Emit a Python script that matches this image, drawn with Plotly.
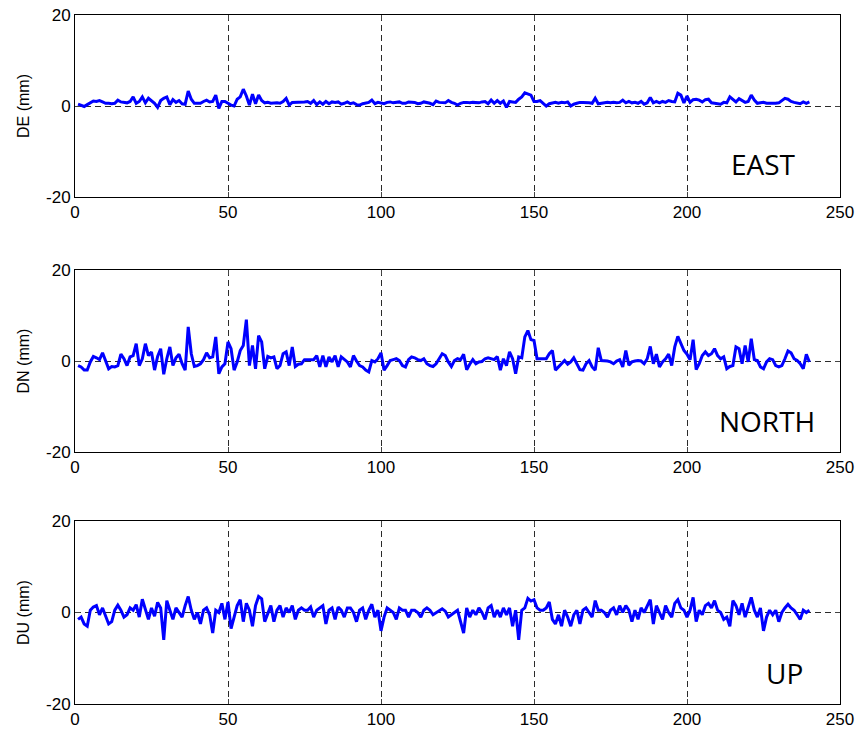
import plotly.graph_objects as go
from plotly.subplots import make_subplots

epochs = list(range(1, 241))

east = [
    0.4, 0.2, -0.1, 0.3, 0.8, 1.1, 1.0, 1.2, 0.9, 0.6,
    0.6, 0.5, 0.6, 1.3, 0.9, 0.8, 0.7, 1.0, 2.0, 0.6,
    1.0, 2.0, 0.7, 1.7, 1.2, 0.6, -0.3, 1.2, 1.7, 2.0,
    0.3, 1.4, 0.8, 1.2, 0.5, 0.4, 3.3, 1.5, 0.6, 0.6,
    0.6, 1.0, 1.3, 0.9, 1.0, 2.4, -0.5, 1.0, 1.0, 0.6,
    0.2, 0.0, 1.5, 2.0, 3.7, 2.2, 0.2, 2.6, 0.5, 2.4,
    1.2, 0.7, 0.8, 0.6, 0.7, 0.7, 0.6, 1.0, 1.7, 0.2,
    0.8, 0.8, 0.8, 0.8, 0.9, 1.0, 0.6, 1.2, 0.3, 0.9,
    0.4, 1.0, 0.5, 0.9, 0.8, 0.9, 0.4, 0.6, 0.9, 0.5,
    0.7, 0.3, 0.2, 0.5, 0.7, 0.8, 1.3, 0.5, 0.8, 0.6,
    0.5, 0.8, 0.9, 0.7, 0.8, 0.9, 0.6, 0.6, 0.9, 0.9,
    0.8, 0.5, 0.6, 0.9, 0.8, 0.6, 0.3, 1.1, 0.8, 0.7,
    0.7, 1.2, 0.8, 0.6, 0.2, 0.6, 0.8, 0.8, 0.7, 0.8,
    0.8, 0.7, 0.9, 1.0, 0.5, 1.3, 0.6, 1.2, 0.6, 1.1,
    -0.3, 1.0, 0.9, 0.8, 1.5, 2.0, 2.9, 2.6, 2.4, 1.0,
    1.0, 1.2, 0.6, 0.0, 0.5, 0.6, 0.8, 0.6, 0.8, 0.7,
    0.9, 0.0, 0.4, 0.6, 0.8, 0.8, 0.8, 0.7, 0.6, 1.7,
    0.5, 0.6, 0.7, 0.8, 0.7, 0.8, 0.7, 0.8, 1.3, 0.7,
    1.0, 0.7, 0.8, 0.6, 1.0, 0.4, 0.7, 1.9, 0.7, 1.0,
    0.7, 1.0, 0.8, 1.2, 1.0, 0.9, 2.8, 2.4, 0.7, 2.2,
    0.8, 1.4, 1.5, 1.3, 0.9, 1.4, 1.5, 0.7, 0.6, 0.5,
    0.4, 0.8, 0.7, 2.0, 1.5, 0.9, 1.6, 1.2, 0.8, 1.0,
    2.4, 1.3, 0.6, 0.7, 0.8, 0.6, 0.6, 0.5, 0.6, 0.7,
    1.2, 1.7, 1.5, 1.0, 0.8, 0.7, 0.5, 0.9, 0.6, 0.9,
]

north = [
    -1.0, -1.3, -2.0, -2.0, -0.2, 1.0, 0.7, 0.3, 1.8, -0.2,
    -1.7, -1.2, -1.3, -1.0, 1.5, 0.5, -1.0, 0.9, 1.2, 3.8,
    -1.0, 0.5, 3.8, 1.2, 2.0, -2.0, 1.0, 2.7, -2.9, 0.5,
    3.1, -1.0, 0.7, 1.5, -0.6, -2.0, 7.5, 1.6, -1.2, -1.0,
    -0.6, 0.3, 1.8, 0.7, 0.9, 5.3, -2.8, -1.3, -0.6, 4.2,
    2.7, -2.0, -0.2, 2.3, 3.4, 9.1, -1.0, 3.4, -1.7, 5.6,
    4.2, -1.7, 1.0, 0.7, 0.9, -1.7, -1.0, 1.6, 2.0, -1.0,
    3.1, -1.2, -0.7, -0.6, 0.3, 0.3, 0.3, 0.3, 1.2, -1.3,
    1.2, -1.3, 0.9, -0.2, 1.2, -1.3, 0.9, 0.3, -0.2, -1.3,
    1.2, 0.0, -1.0, -1.3, -2.0, -2.4, 0.1, -0.2, 0.5, 1.8,
    -2.0, -1.0, 0.1, 0.3, 0.5, 0.1, -1.0, -1.3, 0.3, 0.9,
    0.7, 0.3, 0.1, 0.5, -0.6, -1.0, -1.2, -0.6, 0.5, 1.6,
    1.2, -0.2, -1.2, 0.1, 0.5, 0.3, 1.5, -1.9, -0.7, 0.3,
    -0.6, -0.2, -0.1, 0.5, 0.7, 0.5, 0.3, 1.0, -2.0, 0.5,
    -1.0, 2.0, 0.5, -2.8, 0.9, 0.7, 5.3, 6.7, 4.7, 4.5,
    0.5, 0.5, 0.5, 0.5, 1.6, 2.3, -2.0, -1.3, -0.8, 0.1,
    -0.7, -0.2, 0.7, -0.6, -1.9, -2.0, -0.6, 0.1, -1.3, -2.0,
    2.9, 0.1, 0.1, 0.0, -0.2, -0.6, 0.0, 0.3, -1.3, 2.3,
    -0.9, -0.2, 0.0, 0.1, 0.0, -0.6, 0.5, 3.2, -0.6, 1.5,
    -1.3, -0.2, 0.5, 1.5, -1.0, 3.1, 5.4, 3.8, 2.3, 1.5,
    0.3, 4.7, -1.9, -0.6, 1.2, 2.0, 1.2, 1.6, 2.7, 1.2,
    0.5, 0.9, -1.7, -1.2, -1.0, 3.1, 2.7, -0.6, 3.4, -0.2,
    4.9, 0.3, 0.1, -1.3, -1.7, -0.2, 0.5, 0.3, -1.0, -1.3,
    -1.0, 0.5, 2.2, 1.8, 0.5, 0.1, -0.6, -1.7, 1.5, -0.2,
]

up = [
    -1.5, -1.0, -2.5, -3.0, 0.5, 1.2, 1.5, -0.5, 1.0, -1.0,
    -2.5, -2.0, 0.5, 1.6, 0.5, -1.0, -0.5, 1.0, 0.5, 1.7,
    -1.0, 2.9, 0.8, -1.5, 1.0, -0.8, 2.2, 1.0, -6.0, 2.6,
    0.5, -1.5, 1.0, 0.0, -1.0, 1.5, 3.5, 0.5, -1.5, 0.0,
    -2.5, 0.5, 1.0, -0.5, -4.5, 0.5, 0.0, 2.0, -1.5, 2.3,
    -3.5, -1.0, 1.5, 2.8, -2.0, 2.0, 0.5, -3.0, 1.5, 3.5,
    3.0, -2.0, 0.0, 1.5, -2.0, 0.5, 1.5, -1.0, 1.0, 0.0,
    1.5, -1.5, 0.5, 1.0, 0.5, 0.5, 1.2, -1.0, 0.5, 1.0,
    1.5, -2.5, 0.5, 1.0, -1.5, 1.2, 0.5, -1.0, 1.0, 1.0,
    0.0, -2.0, 0.5, 1.0, -1.5, 0.5, 1.8, -1.0, 0.5, -4.0,
    -1.0, 1.0, 0.5, 0.0, -1.5, 1.0, 0.5, 0.5, -1.0, 0.5,
    0.5, 0.0, -1.0, 0.5, 1.0, 0.5, -0.5, 0.0, 0.5, 0.8,
    0.3, -1.0, -0.5, 0.0, 0.5, -2.0, -4.5, 1.0, -1.0, 0.5,
    -0.5, 1.0, 0.0, -1.5, 1.0, 1.5, -1.0, 0.5, -1.0, 1.0,
    -0.5, 1.0, -3.0, 0.5, -6.0, 0.5, 1.0, 3.1, 2.5, 2.8,
    1.0, 0.5, 0.5, 1.0, 2.3, -1.5, -2.5, -0.5, -3.0, 0.5,
    -1.0, -3.0, -0.5, 0.5, -2.5, 0.5, 1.0, 0.0, -1.0, 2.6,
    0.5, 0.5, 0.0, -1.0, 0.5, 1.0, -0.5, 1.5, 0.0, 1.5,
    0.5, -2.0, 0.5, -1.5, 1.0, 0.0, 1.5, 2.8, -2.5, 1.5,
    0.0, -1.5, 1.5, 0.0, -1.0, 2.0, 2.8, 1.0, 0.5, -1.0,
    0.5, 3.3, -2.0, 0.5, -0.5, 1.5, 2.0, 1.0, 2.6, 0.5,
    0.0, -1.5, -1.0, -3.0, 2.6, 1.5, -0.5, 2.0, -1.0, 1.0,
    3.3, 0.5, -1.0, 1.0, -4.0, -1.0, 0.5, -0.5, 0.5, -2.0,
    0.0, 1.0, 1.8, 1.0, 0.5, -0.5, -1.5, 0.5, 0.0, 0.5,
]

series = [east, north, up]
ylabels = ["DE (mm)", "DN (mm)", "DU (mm)"]
panel_names = ["EAST", "NORTH", "UP"]
name_x = [225, 226, 232]
name_y = [-12.8, -13.2, -13.2]
x_ticks = [0, 50, 100, 150, 200, 250]
x_ticktext = ["0", "50", "100", "150", "200", "250"]
y_ticks = [-20, 0, 20]
y_ticktext = ["-20", "0", "20"]

domains = [[0.7358, 1.0], [0.3657, 0.6299], [0.0, 0.2656]]

fig = make_subplots(rows=3, cols=1)

for i, vals in enumerate(series):
    fig.add_trace(
        go.Scatter(x=epochs, y=vals, mode="lines",
                   line=dict(color="#0000FF", width=3), showlegend=False),
        row=i + 1, col=1,
    )

tick_font = dict(family="Liberation Sans, Arial, sans-serif", size=17, color="black")
for i in range(3):
    xa = "xaxis" if i == 0 else f"xaxis{i+1}"
    ya = "yaxis" if i == 0 else f"yaxis{i+1}"
    fig.layout[xa].update(
        range=[0, 250], tickvals=x_ticks, ticktext=x_ticktext, ticks="inside", ticklen=5,
        showline=True, linecolor="black", linewidth=1, mirror="allticks",
        showgrid=True, gridcolor="#2a2a2a", gridwidth=1, griddash="6px,4px",
        zeroline=False, tickfont=tick_font, domain=[0, 1], automargin=False,
    )
    fig.layout[ya].update(
        range=[-20, 20], tickvals=y_ticks, ticktext=y_ticktext, ticks="inside", ticklen=5,
        showline=True, linecolor="black", linewidth=1, mirror="allticks",
        showgrid=True, gridcolor="#2a2a2a", gridwidth=1, griddash="6px,4px",
        zeroline=False, tickfont=tick_font, domain=domains[i], automargin=False,
        title=dict(text=ylabels[i], font=dict(family="Liberation Sans, Arial, sans-serif", size=16, color="black"), standoff=12),
    )
    fig.add_annotation(
        x=name_x[i], y=name_y[i], xref=f"x{'' if i == 0 else i+1}", yref=f"y{'' if i == 0 else i+1}",
        text=panel_names[i], showarrow=False,
        font=dict(family="Open Sans, sans-serif", size=28, color="black"),
    )

fig.update_layout(
    width=857, height=731,
    margin=dict(l=75, r=17, t=15, b=27),
    paper_bgcolor="white", plot_bgcolor="white",
)

fig.write_html("out.html")
